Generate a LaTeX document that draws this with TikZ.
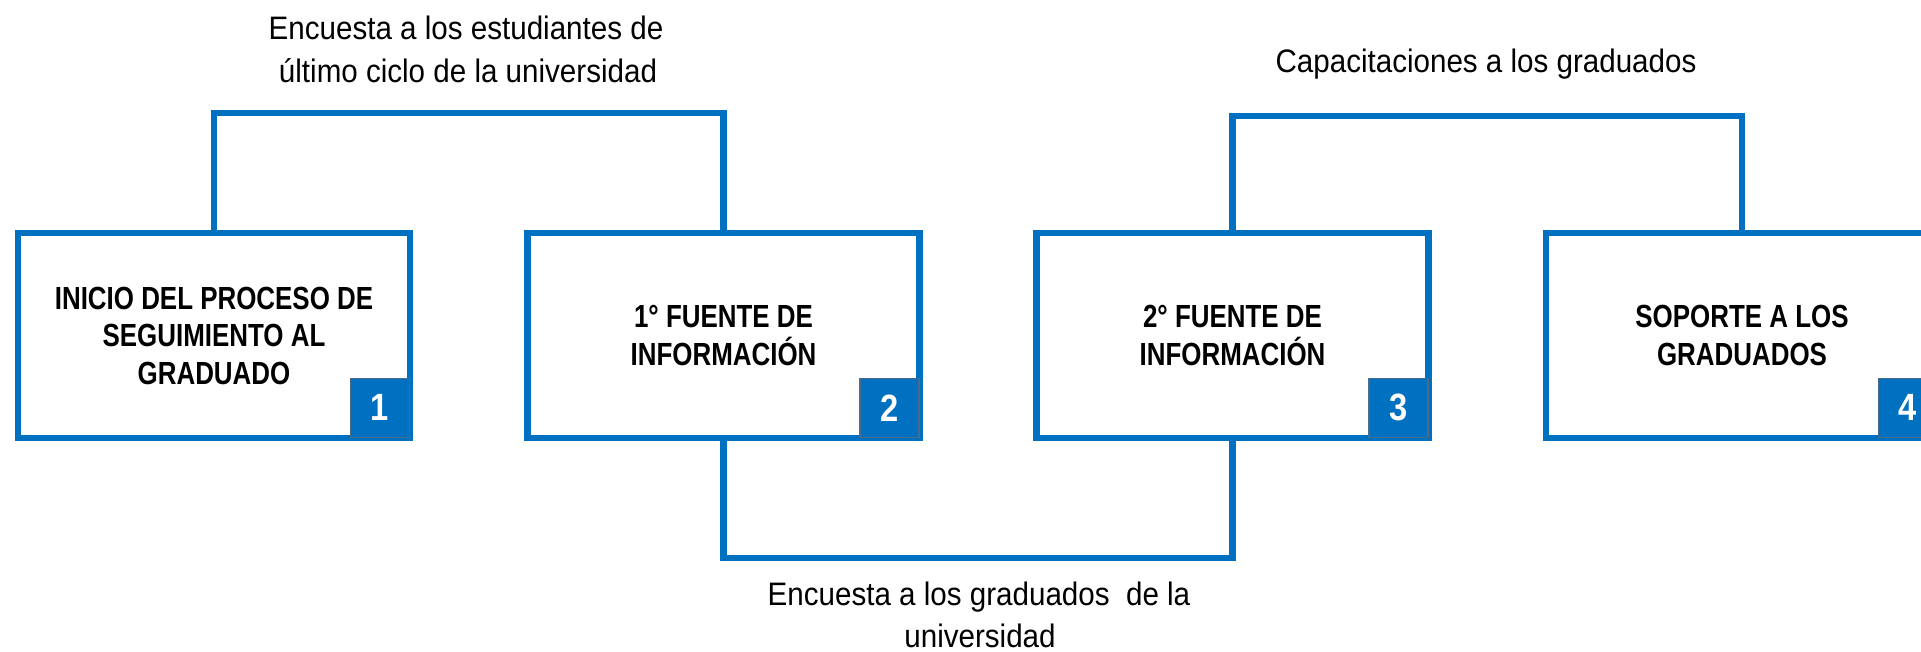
\documentclass[tikz,border=0pt]{standalone}
\usepackage{fontspec}
\setmainfont{Liberation Sans}[FakeStretch=0.91]
\newfontfamily\bnar{Liberation Sans}[FakeStretch=0.81]
\newfontfamily\nnar{Liberation Sans}[FakeStretch=0.86]
\definecolor{azul}{HTML}{0070C0}
\definecolor{gris}{HTML}{4A6B8A}
\begin{document}
\begin{tikzpicture}[x=1pt,y=-1pt,
  box/.style={draw=azul, fill=white, line width=6.5pt, minimum width=392pt, minimum height=205pt,
    inner sep=0pt, outer sep=0pt, align=center, font=\bnar\fontsize{32}{37.5}\selectfont\bfseries},
  num/.style={anchor=south east, fill=azul, draw=gris, line width=1.5pt, minimum size=59pt,
    inner sep=0pt, text=white, font=\nnar\fontsize{38}{40}\selectfont\bfseries},
  conn/.style={draw=azul, line width=6.5pt},
  lab/.style={anchor=base, inner sep=0pt, font=\fontsize{32.5}{38}\selectfont}]
\useasboundingbox (0,0) rectangle (1921,651);

\node[box] (b1) at (214,335.5) {INICIO DEL PROCESO DE\\SEGUIMIENTO AL\\GRADUADO};
\node[box] (b2) at (723.5,335.5) {1° FUENTE DE\\INFORMACIÓN};
\node[box] (b3) at (1232.5,335.5) {2° FUENTE DE\\INFORMACIÓN};
\node[box] (b4) at (1742,335.5) {SOPORTE A LOS\\GRADUADOS};

\draw[conn] (b1.north) -- ++(0,-120) -| (b2.north);
\draw[conn] (b2.south) -- ++(0,120) -| (b3.south);
\draw[conn] (b3.north) -- ++(0,-117) -| (b4.north);

\node[num] (n1) at (b1.south east) {1};
\node[num] (n2) at (b2.south east) {2};
\node[num] (n3) at (b3.south east) {3};
\node[num] (n4) at (b4.south east) {4};

\node[lab] (l1a) at (466,39) {Encuesta a los estudiantes de};
\node[lab] (l1b) at (468,82) {último ciclo de la universidad};
\node[lab] (l2) at (1486,72) {Capacitaciones a los graduados};
\node[lab] (l3a) at (979,605) {Encuesta a los graduados~ de la};
\node[lab] (l3b) at (980,647) {universidad};
\end{tikzpicture}
\end{document}
